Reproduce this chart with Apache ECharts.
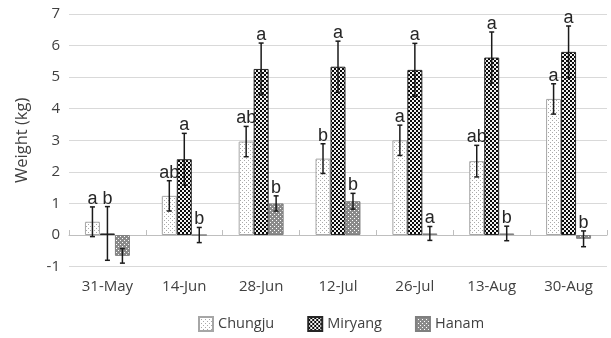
<!DOCTYPE html>
<html>
<head>
<meta charset="utf-8">
<script src="https://cdn.jsdelivr.net/npm/echarts@6/dist/echarts.min.js"></script>
<style>
  html, body { margin: 0; padding: 0; background: #ffffff; }
  #chart { width: 611px; height: 338px; }
</style>
</head>
<body>
<div id="chart"></div>
<script>
// Sampling dates
const categories = ['31-May', '14-Jun', '28-Jun', '12-Jul', '26-Jul', '13-Aug', '30-Aug'];

// Mean weight (kg) per site
const chungju = [0.42, 1.24, 2.96, 2.42, 3.00, 2.34, 4.31];
const miryang = [0.05, 2.40, 5.26, 5.33, 5.23, 5.62, 5.80];
const hanam   = [-0.66, 0.00, 1.00, 1.07, 0.05, 0.05, -0.12];

// Error bar half-widths (kg)
const chungjuErr = [0.47, 0.48, 0.48, 0.47, 0.48, 0.50, 0.48];
const miryangErr = [0.85, 0.82, 0.82, 0.81, 0.84, 0.81, 0.82];
const hanamErr   = [0.23, 0.24, 0.24, 0.25, 0.22, 0.23, 0.25];

// Significance letters
const chungjuSig = ['a', 'ab', 'ab', 'b', 'a', 'ab', 'a'];
const miryangSig = ['b', 'a', 'a', 'a', 'a', 'a', 'a'];
const hanamSig   = ['', 'b', 'b', 'b', 'a', 'b', 'b'];

const yTicks = { min: -1, max: 7, interval: 1 };

// Small tiled fill patterns
function makePattern(size, bg, fg, cells) {
  const c = document.createElement('canvas');
  c.width = size; c.height = size;
  const ctx = c.getContext('2d');
  ctx.fillStyle = bg;
  ctx.fillRect(0, 0, size, size);
  ctx.fillStyle = fg;
  cells.forEach(function (r) { ctx.fillRect(r[0], r[1], r[2], r[3]); });
  return { image: c, repeat: 'repeat' };
}

const dotFill = makePattern(4, '#ffffff', '#a9a9a9', [[0, 0, 1, 1], [2, 2, 1, 1]]);
const checkFill = makePattern(4, '#0a0a0a', '#f2f2f2', [[0, 0, 2, 2], [2, 2, 2, 2]]);
const hatchFill = makePattern(4, '#8a8a8a', '#ffffff', [[0, 0, 1, 1], [2, 2, 1, 1]]);

const BAR_RATIO = 0.195;   // bar width as a share of the category band

const seriesDefs = [
  { name: 'Chungju', values: chungju, errs: chungjuErr, sig: chungjuSig, fill: dotFill, border: '#a6a6a6' },
  { name: 'Miryang', values: miryang, errs: miryangErr, sig: miryangSig, fill: checkFill, border: '#262626' },
  { name: 'Hanam',   values: hanam,   errs: hanamErr,   sig: hanamSig,   fill: hatchFill, border: '#7f7f7f' }
];

const barSeries = seriesDefs.map(function (d) {
  return {
    name: d.name,
    type: 'bar',
    xAxisIndex: 0,
    yAxisIndex: 0,
    barWidth: (BAR_RATIO * 100) + '%',
    barGap: '0%',
    data: d.values,
    itemStyle: { color: d.fill, borderColor: d.border, borderWidth: 1 },
    emphasis: { disabled: true },
    z: 2
  };
});

// Error bars plus letters above each bar
const errSeries = seriesDefs.map(function (d, si) {
  return {
    type: 'custom',
    xAxisIndex: 0,
    yAxisIndex: 0,
    z: 5,
    silent: true,
    data: d.values.map(function (v, i) { return [i, v, d.errs[i]]; }),
    renderItem: function (params, api) {
      const i = api.value(0);
      const v = api.value(1);
      const e = api.value(2);
      const band = api.size([1, 0])[0];
      const dx = (si - 1) * band * BAR_RATIO;
      const top = api.coord([i, v + e]);
      const bot = api.coord([i, v - e]);
      const x = top[0] + dx;
      const cap = 2.5;
      const lineStyle = { stroke: '#1a1a1a', lineWidth: 1.5 };
      const children = [
        { type: 'line', shape: { x1: x, y1: top[1], x2: x, y2: bot[1] }, style: lineStyle },
        { type: 'line', shape: { x1: x - cap, y1: top[1], x2: x + cap, y2: top[1] }, style: lineStyle },
        { type: 'line', shape: { x1: x - cap, y1: bot[1], x2: x + cap, y2: bot[1] }, style: lineStyle }
      ];
      const lab = d.sig[params.dataIndex];
      if (lab) {
        children.push({
          type: 'text',
          style: {
            text: lab, x: x, y: top[1] + 1,
            align: 'center', verticalAlign: 'bottom',
            fontFamily: 'Liberation Sans', fontSize: 18, fill: '#262626'
          }
        });
      }
      return { type: 'group', children: children };
    }
  };
});

const chart = echarts.init(document.getElementById('chart'), null, { renderer: 'canvas' });
chart.setOption({
  animation: false,
  backgroundColor: '#ffffff',
  grid: { left: 69, right: 4, top: 14, bottom: 71.4 },
  legend: {
    data: seriesDefs.map(function (d) { return d.name; }),
    left: 193,
    top: 311,
    icon: 'rect',
    itemWidth: 14,
    itemHeight: 14,
    itemGap: 33,
    textStyle: { fontFamily: 'Open Sans', fontSize: 14.5, color: '#404040' }
  },
  xAxis: [
    {
      type: 'category',
      data: categories,
      axisLine: { onZero: true, lineStyle: { color: '#bfbfbf', width: 1 } },
      axisTick: { show: true, inside: true, length: 5, lineStyle: { color: '#bfbfbf' } },
      axisLabel: { show: false },
      splitLine: { show: false }
    },
    {
      type: 'category',
      data: categories,
      position: 'bottom',
      axisLine: { show: false, onZero: false },
      axisTick: { show: false },
      axisLabel: { margin: 13, fontFamily: 'Open Sans', fontSize: 15, color: '#404040' }
    }
  ],
  yAxis: {
    type: 'value',
    min: yTicks.min,
    max: yTicks.max,
    interval: yTicks.interval,
    name: 'Weight (kg)',
    nameLocation: 'middle',
    nameGap: 38,
    nameRotate: 90,
    nameTextStyle: { fontFamily: 'Open Sans', fontSize: 16.5, color: '#404040' },
    axisLine: { show: false },
    axisTick: { show: false },
    axisLabel: { margin: 9, fontFamily: 'Open Sans', fontSize: 15, color: '#404040' },
    splitLine: { lineStyle: { color: '#d9d9d9', width: 1 } }
  },
  series: barSeries.concat(errSeries)
});
</script>
</body>
</html>
